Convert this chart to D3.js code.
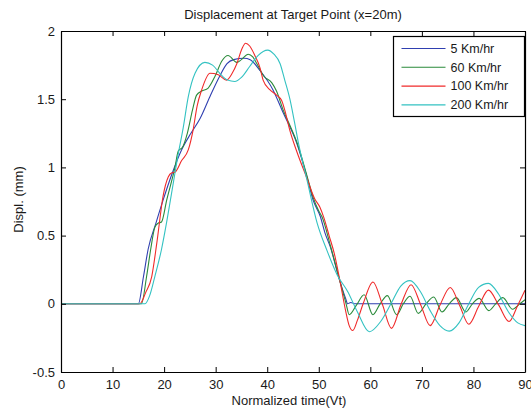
<!DOCTYPE html>
<html>
<head>
<meta charset="utf-8">
<script src="https://cdn.jsdelivr.net/npm/d3@7"></script>
<style>
  body { margin: 0; background: #fff; }
  text { font-family: "Liberation Sans", Arial, sans-serif; fill: #1a1a1a; }
</style>
</head>
<body>
<div id="chart"></div>
<script>
// values, [normalized time, displacement mm]
const kmh5 = [[0,0],[15,0],[16,0.2],[16.9,0.4],[18.4,0.59],[19.8,0.76],[21.5,0.95],[23.4,1.13],[25.2,1.25],[27,1.36],
  [28.9,1.52],[30.8,1.67],[32.2,1.76],[33.5,1.79],[35.5,1.8],[36.7,1.79],[38.6,1.71],[41.1,1.57],[43.1,1.4],[45.7,1.18],
  [47.7,0.93],[48.9,0.76],[50.3,0.64],[51.2,0.52],[52.3,0.41],[53.9,0.19],[55.2,0.04],[55.6,0],[56.2,0.01],[57,0],[90,0]];

const kmh60 = [[0,0],[15.6,0],[16.6,0.2],[17.4,0.4],[18.2,0.56],[18.8,0.59],[19.5,0.6],[20.5,0.76],[22.1,1.0],[22.75,1.12],
  [23.6,1.15],[24.5,1.25],[25.5,1.42],[26.3,1.53],[27.3,1.56],[28.5,1.58],[29.9,1.67],[31.2,1.78],[32.4,1.82],[34.1,1.77],
  [35,1.79],[36.3,1.83],[37.2,1.81],[38,1.76],[39.3,1.67],[40.9,1.62],[41.8,1.56],[43.1,1.42],[44.5,1.3],[45.7,1.19],
  [47.7,0.94],[48.9,0.78],[50,0.68],[50.6,0.64],[52.3,0.42],[54,0.18],[55.3,0],[55.9,-0.08],[57.3,-0.01],[58.8,0.066],
  [60.5,-0.08],[61.9,0],[63.3,0.06],[65.1,-0.08],[66.4,0],[67.7,0.055],[69.3,-0.07],[70.8,0],[72.3,0.05],[73.9,-0.06],
  [75.3,0],[76.7,0.045],[78.5,-0.06],[79.8,0],[81.1,0.04],[83,-0.05],[84.3,0],[85.7,0.045],[87.6,-0.04],[89,0],[90,0.03]];

const kmh100 = [[0,0],[15.3,0],[16.4,0.08],[17.6,0.2],[18.6,0.45],[19.8,0.79],[20.8,0.93],[21.5,0.96],[22.1,0.965],[23.4,1.05],
  [24.7,1.13],[25.6,1.27],[26.4,1.45],[27.3,1.57],[28.9,1.69],[30.5,1.68],[32.1,1.64],[33.2,1.69],[34.1,1.76],[35.1,1.87],
  [35.8,1.91],[36.6,1.89],[37.6,1.82],[38.6,1.73],[39.2,1.64],[40.5,1.57],[41.8,1.53],[42.8,1.49],[43.4,1.42],[44.4,1.27],
  [45.7,1.12],[47.7,0.92],[49.2,0.77],[50.2,0.71],[51,0.63],[52,0.5],[53,0.37],[54.2,0.15],[55.2,-0.05],[55.9,-0.16],
  [56.6,-0.196],[57.5,-0.12],[58.6,0],[60.5,0.16],[62.3,0],[64.1,-0.18],[66,0],[67.9,0.14],[69.8,-0.01],[71.6,-0.16],
  [73.5,-0.01],[75.5,0.12],[77.3,-0.01],[79.1,-0.15],[81,-0.02],[82.9,0.1],[84.9,-0.01],[86.9,-0.13],[88.6,-0.01],[90,0.1]];

const kmh200 = [[0,0],[16.3,0],[17.2,0.06],[18.2,0.2],[19.5,0.4],[20.5,0.6],[21.4,0.8],[22.75,1.1],[23.7,1.29],[24.7,1.52],
  [26,1.69],[27.9,1.77],[29.4,1.75],[30.8,1.69],[32.3,1.64],[33.7,1.63],[35,1.66],[36.6,1.74],[38.2,1.82],[40.1,1.86],
  [41.3,1.83],[42.5,1.76],[43.4,1.64],[44.4,1.5],[45.3,1.33],[46.1,1.17],[47.7,0.91],[49.7,0.59],[51.6,0.39],[53.6,0.21],
  [55.6,0.09],[57.5,-0.06],[59.8,-0.205],[62,-0.13],[64,0],[65.9,0.13],[67.7,0.17],[69.7,0.09],[71.6,-0.05],[73.5,-0.16],
  [75.3,-0.2],[77.2,-0.14],[79.1,0],[81,0.12],[82.9,0.15],[84.9,0.07],[86.8,-0.06],[88.6,-0.14],[90,-0.16]];

const seriesNames = ["5 Km/hr", "60 Km/hr", "100 Km/hr", "200 Km/hr"];
const seriesData = [kmh5, kmh60, kmh100, kmh200];
const seriesColors = ["#2f3fb0", "#2a8a3a", "#f02a2a", "#33c2c2"];

const xTicks = [0, 10, 20, 30, 40, 50, 60, 70, 80, 90];
const yTicks = [-0.5, 0, 0.5, 1, 1.5, 2];

// layout
let width = 531;
let height = 410;
let margin = { top: 31, right: 6, bottom: 38, left: 61 };
let plotW = width - margin.left - margin.right;
let plotH = height - margin.top - margin.bottom;

let x = d3.scaleLinear().domain([0, 90]).range([0, plotW]);
let y = d3.scaleLinear().domain([-0.5, 2]).range([plotH, 0]);

let svg = d3.select("#chart")
  .append("svg")
  .attr("width", width)
  .attr("height", height);

// title
svg.append("text")
  .attr("x", margin.left + plotW / 2)
  .attr("y", 19)
  .attr("text-anchor", "middle")
  .style("font-size", "13px")
  .text("Displacement at Target Point (x=20m)");

let g = svg.append("g").attr("transform", `translate(${margin.left},${margin.top})`);

g.append("clipPath").attr("id", "plotClip")
  .append("rect").attr("width", plotW).attr("height", plotH);

// curves (monotone so the flat start does not overshoot)
let line = d3.line()
  .x(d => x(d[0]))
  .y(d => y(d[1]))
  .curve(d3.curveMonotoneX);

g.append("g").attr("clip-path", "url(#plotClip)")
  .selectAll("path")
  .data(seriesData)
  .enter()
  .append("path")
  .attr("d", d => line(d))
  .attr("fill", "none")
  .attr("stroke", (d, i) => seriesColors[i])
  .attr("stroke-width", 1.1);

// axes, ticks pointing inward like matlab
let styleAxis = sel => {
  sel.select(".domain").attr("stroke", "#000").attr("stroke-width", 1.2);
  sel.selectAll(".tick line").attr("stroke", "#000");
  sel.selectAll(".tick text").style("font-size", "13px").style("font-family", "Liberation Sans, Arial, sans-serif").attr("fill", "#1a1a1a");
};

g.append("g")
  .attr("transform", `translate(0,${plotH})`)
  .call(d3.axisBottom(x).tickValues(xTicks).tickSizeInner(-5).tickSizeOuter(0).tickPadding(8).tickFormat(d => d))
  .call(styleAxis);

g.append("g")
  .call(d3.axisTop(x).tickValues(xTicks).tickSizeInner(-5).tickSizeOuter(0).tickFormat(""))
  .call(styleAxis);

g.append("g")
  .call(d3.axisLeft(y).tickValues(yTicks).tickSizeInner(-5).tickSizeOuter(0).tickPadding(6).tickFormat(d => String(d)))
  .call(styleAxis);

g.append("g")
  .attr("transform", `translate(${plotW},0)`)
  .call(d3.axisRight(y).tickValues(yTicks).tickSizeInner(-5).tickSizeOuter(0).tickFormat(""))
  .call(styleAxis);

// axis labels
svg.append("text")
  .attr("x", margin.left + plotW / 2 - 4)
  .attr("y", 405)
  .attr("text-anchor", "middle")
  .style("font-size", "13px")
  .text("Normalized time(Vt)");

svg.append("text")
  .attr("transform", `translate(23,${margin.top + plotH / 2 - 2}) rotate(-90)`)
  .attr("text-anchor", "middle")
  .style("font-size", "13px")
  .text("Displ. (mm)");

// legend
let legend = svg.append("g").attr("transform", "translate(393.5,36.5)");
legend.append("rect")
  .attr("width", 131)
  .attr("height", 80)
  .attr("fill", "#fff")
  .attr("stroke", "#000")
  .attr("stroke-width", 1.2);

let rows = legend.selectAll("g.row")
  .data(seriesNames)
  .enter()
  .append("g")
  .attr("class", "row")
  .attr("transform", (d, i) => `translate(0,${12 + i * 18.8})`);

rows.append("line")
  .attr("x1", 8).attr("x2", 52)
  .attr("stroke", (d, i) => seriesColors[i])
  .attr("stroke-width", 1.1);

rows.append("text")
  .attr("x", 57)
  .attr("dy", "0.35em")
  .style("font-size", "12.5px")
  .text(d => d);
</script>
</body>
</html>
